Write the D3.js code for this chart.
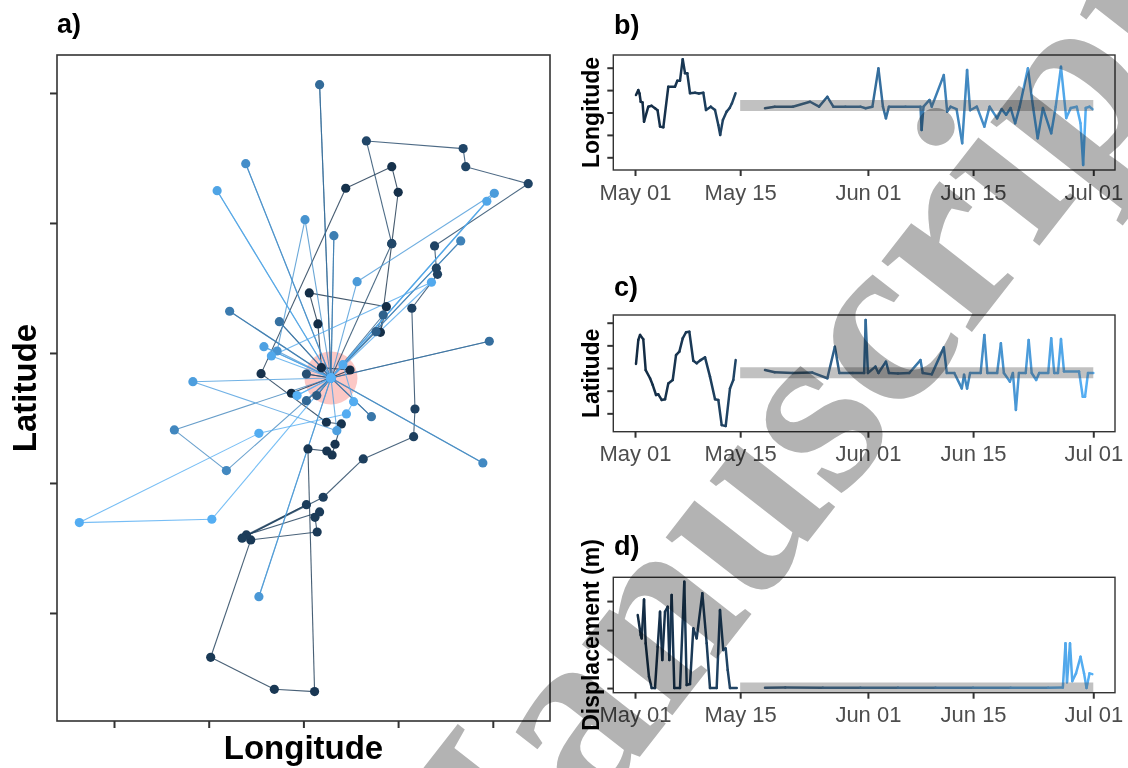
<!DOCTYPE html>
<html>
<head>
<meta charset="utf-8">
<script src="https://cdn.jsdelivr.net/npm/d3@7"></script>
<style>
  body { margin: 0; background: #fff; }
  svg { display: block; font-family: "Liberation Sans", Arial, sans-serif; }
</style>
</head>
<body>
<svg id="fig" width="1128" height="768"></svg>
<script>
// ---- data (days since May 01) ----
// movement track: [day, longitude, latitude] (arbitrary map units)
var track = [
  [0.00,187.3,169.0],[0.35,249.2,186.9],[0.70,219.0,188.7],[1.05,215.3,222.3],[1.40,206.2,246.2],
  [1.75,287.6,235.6],[2.10,281.3,215.9],[2.45,293.3,284.1],[2.80,300.1,323.6],[3.15,293.3,343.3],
  [3.50,244.7,326.7],[3.85,155.3,184.1],[4.20,224.3,146.7],[4.55,240.1,145.4],[4.90,233.4,129.8],
  [5.25,230.3,121.5],[5.60,224.7,124.6],[5.95,204.8,126.2],[6.30,211.8,-60.5],[6.65,169.3,-58.7],
  [7.00,102.1,-34.1],[7.35,144.4,56.2],[7.70,214.5,62.3],[8.05,212.2,73.6],[8.40,217.1,77.7],
  [8.75,139.8,60.0],[9.10,203.2,83.3],[9.45,135.3,57.5],[9.80,220.9,89.0],[10.15,263.2,118.5],
  [10.50,316.4,135.6],[10.85,317.8,156.9],[11.20,314.5,234.4],[11.55,341.6,260.5],[11.90,340.4,265.2],
  [12.25,338.5,282.3],[12.60,437.4,330.2],[12.95,371.4,343.3],[13.30,368.7,357.2],[13.65,266.5,363.1],
  [14.00,293.3,284.1],
  [14.6,229.1,180.8],[18.0,203.2,183.8],[20.0,229.1,180.8],[23.0,214.1,167.2],[24.0,229.1,180.8],
  [25.6,276.7,216.4],[26.6,284.3,229.2],[27.2,229.1,180.8],[29.0,203.2,163.3],[30.0,229.1,180.8],
  [30.7,217.1,406.4],[31.2,229.1,180.8],[32.4,396.3,209.0],[33.0,229.1,180.8],[33.4,174.6,224.1],
  [34.0,229.1,180.8],[36.0,271.8,151.0],[37.0,229.1,180.8],[38.0,122.1,232.1],[38.5,229.1,180.8],
  [39.2,232.2,290.2],[40.0,229.1,180.8],[41.1,366.1,286.2],[42.0,229.1,180.8],[43.3,63.7,140.8],
  [43.6,118.7,109.5],[44.0,229.1,180.8],[44.2,389.5,115.4],[45.0,229.1,180.8],[46.5,139.1,345.6],
  [47.0,229.1,180.8],[48.5,201.7,302.5],[49.0,172.2,201.5],[49.5,229.1,180.8],[50.7,153.0,12.5],
  [51.0,229.1,180.8],[51.5,256.7,254.8],[52.3,401.6,322.8],[52.8,229.1,180.8],[53.2,83.3,177.9],
  [53.6,235.3,140.2],[54.0,229.1,180.8],[54.5,158.3,204.8],[55.0,229.1,180.8],[55.4,108.9,324.8],
  [56.0,229.1,180.8],[56.7,393.7,316.7],[57.0,229.1,180.8],[57.4,166.2,197.7],[57.8,335.2,254.4],
  [58.2,229.1,180.8],[58.6,241.7,191.0],[58.9,253.0,162.5],[59.1,245.4,153.1],[59.3,153.0,138.2],
  [59.5,-36.6,69.5],[59.7,103.3,72.1],[60.0,229.1,180.8],[60.4,193.3,167.2],[61.0,229.1,180.8]
];
var home = [229.1, 180.8];
var homeRadius = 28;

// longitude through time: [day, value]
var lonSeries = [
  [0.13,3.78],[0.44,4.00],[0.60,3.85],[0.76,3.48],[1.00,3.45],[1.20,2.59],[1.77,3.26],[2.20,3.30],
  [2.66,3.19],[3.00,3.10],[3.33,2.37],[3.77,2.34],[4.43,4.15],[5.32,4.15],[5.63,4.42],[5.99,4.42],
  [6.35,5.38],[6.66,4.75],[6.96,4.75],[7.32,3.86],[7.99,3.88],[8.50,3.85],[9.09,3.88],[9.45,3.11],
  [10.08,3.26],[10.65,3.11],[11.09,2.44],[11.34,2.00],[11.70,2.67],[12.20,3.04],[12.60,3.20],
  [12.90,3.41],[13.38,3.86],
  [17.3,3.19],[18.6,3.26],[21.0,3.26],[23.3,3.48],[24.5,3.26],[25.6,3.70],[26.4,3.26],[28.0,3.26],
  [30.0,3.26],[30.7,3.19],[31.6,3.26],[32.4,4.97],[33.0,3.26],[33.4,2.74],[33.8,3.26],[36.0,3.26],
  [38.0,3.26],[38.15,2.22],[38.4,3.26],[39.2,3.56],[39.5,3.26],[41.1,4.67],[41.55,3.04],[42.0,3.26],
  [42.8,3.15],[43.55,1.63],[44.2,4.90],[44.6,3.10],[45.5,3.26],[46.5,2.37],[47.2,3.26],[48.2,2.74],
  [48.8,3.15],[49.4,2.90],[50.0,3.20],[50.6,2.52],[51.2,3.26],[52.3,4.97],[53.0,3.20],[53.6,1.85],
  [54.3,3.20],[55.4,2.07],[56.0,3.26],[56.7,5.04],[57.4,2.75],[58.0,3.20],[58.8,3.26],[59.3,2.52],
  [59.65,0.66],[60.0,3.20],[60.5,3.26],[60.9,3.15]
];
var lonHome = 3.31;

// latitude through time: [day, value]
var latSeries = [
  [0.13,3.18],[0.44,4.24],[0.67,4.46],[1.10,4.27],[1.42,2.91],[2.00,2.55],[2.36,2.25],[2.80,1.81],
  [3.10,1.84],[3.55,1.59],[4.00,1.62],[4.43,2.32],[5.02,2.47],[5.46,3.57],[5.90,3.72],[6.35,4.31],
  [6.79,4.58],[7.23,4.60],[7.76,3.32],[8.21,3.21],[8.74,3.35],[9.32,3.47],[9.98,2.62],[10.65,1.62],
  [11.09,1.59],[11.54,0.48],[12.07,0.44],[12.64,2.10],[13.08,2.47],[13.40,3.35],
  [17.3,2.91],[18.6,2.81],[21.0,2.78],[23.6,2.80],[25.6,2.55],[26.6,3.94],[27.2,2.78],[29.0,2.78],
  [30.5,2.78],[30.7,5.12],[31.0,2.78],[32.0,3.06],[32.4,2.78],[33.4,3.28],[33.8,2.78],[35.0,2.76],
  [36.5,2.78],[38.0,3.35],[38.3,2.78],[39.5,2.72],[41.1,3.91],[41.5,2.78],[42.5,2.78],[43.5,2.10],
  [43.8,2.70],[44.2,2.10],[44.6,2.78],[46.0,2.78],[46.5,4.46],[46.9,2.78],[48.2,2.78],[48.7,4.09],
  [49.1,2.78],[49.9,2.40],[50.3,2.78],[50.7,1.15],[51.1,2.78],[52.0,2.78],[52.4,4.24],[52.8,2.78],
  [53.4,2.47],[53.8,2.78],[55.0,2.78],[55.4,4.31],[55.8,2.78],[56.3,2.78],[56.7,4.28],[57.1,2.85],
  [59.1,2.85],[59.6,1.73],[59.9,1.73],[60.3,2.78],[61.0,2.78]
];
var latHome = 2.79;

// displacement (m) through time: [day, value]
var dispSeries = [
  [0.36,1259],[0.76,914],[0.89,857],[1.20,1529],[1.42,771],[1.86,195],[2.22,0],[2.66,0],
  [3.02,712],[3.33,1316],[3.63,483],[3.99,1316],[4.35,1402],[4.57,483],[4.88,1603],[5.23,0],
  [5.99,0],[6.56,1833],[6.88,52],[7.32,69],[7.76,1029],[8.21,857],[8.96,1633],[9.54,771],
  [9.98,0],[10.87,0],[11.31,1345],[11.75,655],[12.07,684],[12.34,310],[12.64,0],[13.54,0],
  [17.3,5],[20.0,10],[25.0,5],[30.0,5],[35.0,5],[40.0,5],[45.0,5],[50.0,5],[55.0,5],[56.95,10],
  [57.3,771],[57.5,100],[57.9,771],[58.2,120],[58.7,253],[59.3,540],[59.77,253],[60.1,0],
  [60.5,253],[60.87,240]
];
var dispHome = 0;

var mapTicks = [0, 100, 200, 300, 400];
var dateTicks = ["2017-05-01", "2017-05-15", "2017-06-01", "2017-06-15", "2017-07-01"];
var bandDays = [14, 61];
var gapDays = [13.6, 17.2];   // no fixes recorded in this window

// ---- helpers ----
var DAY0 = Date.UTC(2017, 4, 1);
function toDate(d) { return new Date(DAY0 + d * 864e5); }

var colour = d3.scaleLinear()
  .domain([0, 61])
  .range(["#132B43", "#56B1F7"])
  .interpolate(d3.interpolateLab);

var svg = d3.select("#fig");

function styleAxis(g) {
  g.select(".domain").remove();
  g.selectAll(".tick line").attr("stroke", "#333").attr("stroke-width", 2);
}

// ---- panel a: the track ----
var ax = d3.scaleLinear().domain([-60.2, 460.4]).range([57, 550]);
var ay = d3.scaleLinear().domain([-83.1, 429.2]).range([721, 55]);

var pa = svg.append("g").attr("class", "panel-a");

pa.append("circle")
  .attr("cx", ax(home[0]))
  .attr("cy", ay(home[1]))
  .attr("r", ax(homeRadius) - ax(0))
  .attr("fill", "#F8766D")
  .attr("fill-opacity", 0.4);

pa.selectAll("line.seg")
  .data(d3.pairs(track))
  .enter().append("line")
  .attr("class", "seg")
  .attr("x1", function(d) { return ax(d[0][1]); })
  .attr("y1", function(d) { return ay(d[0][2]); })
  .attr("x2", function(d) { return ax(d[1][1]); })
  .attr("y2", function(d) { return ay(d[1][2]); })
  .attr("stroke", function(d) { return colour(d[0][0]); })
  .attr("stroke-width", 1.1)
  .attr("stroke-opacity", 0.8);

pa.selectAll("circle.fix")
  .data(track)
  .enter().append("circle")
  .attr("class", "fix")
  .attr("cx", function(d) { return ax(d[1]); })
  .attr("cy", function(d) { return ay(d[2]); })
  .attr("r", 4.6)
  .attr("fill", function(d) { return colour(d[0]); });

pa.append("rect")
  .attr("x", 57).attr("y", 55)
  .attr("width", 550 - 57).attr("height", 721 - 55)
  .attr("fill", "none").attr("stroke", "#333").attr("stroke-width", 1.6);

pa.append("g")
  .attr("transform", "translate(0,721)")
  .call(d3.axisBottom(ax).tickValues(mapTicks).tickFormat("").tickSize(7))
  .call(styleAxis);
pa.append("g")
  .attr("transform", "translate(57,0)")
  .call(d3.axisLeft(ay).tickValues(mapTicks).tickFormat("").tickSize(7))
  .call(styleAxis);

pa.append("text")
  .attr("x", 57).attr("y", 33)
  .attr("font-size", 27).attr("font-weight", "bold")
  .text("a)");
pa.append("text")
  .attr("x", 303.5).attr("y", 759)
  .attr("text-anchor", "middle")
  .attr("font-size", 33).attr("font-weight", "bold")
  .text("Longitude");
pa.append("text")
  .attr("transform", "translate(35.7,388) rotate(-90)")
  .attr("text-anchor", "middle")
  .attr("font-size", 33).attr("font-weight", "bold")
  .text("Latitude");

// ---- panels b-d: time series ----
var xt = d3.scaleUtc()
  .domain([toDate(-2.89), toDate(63.89)])
  .range([613.3, 1115]);

var panels = [
  { title: "b)", label: "Longitude", series: lonSeries, home: lonHome,
    top: 55, bottom: 170, domain: [0.433, 5.567], ticks: [1, 2, 3, 4, 5], titleY: 33.5 },
  { title: "c)", label: "Latitude", series: latSeries, home: latHome,
    top: 315, bottom: 431.7, domain: [0.19, 5.34], ticks: [1, 2, 3, 4, 5], titleY: 296 },
  { title: "d)", label: "Displacement (m)", series: dispSeries, home: dispHome,
    top: 577.3, bottom: 692.7, domain: [-80, 1910], ticks: [0, 500, 1000, 1500], titleY: 554.5 }
];

panels.forEach(function(p, k) {
  var y = d3.scaleLinear().domain(p.domain).range([p.bottom, p.top]);
  var g = svg.append("g").attr("class", "panel-ts");

  g.append("clipPath").attr("id", "clip" + k)
    .append("rect")
    .attr("x", 613.3).attr("y", p.top)
    .attr("width", 1115 - 613.3).attr("height", p.bottom - p.top);

  var body = g.append("g").attr("clip-path", "url(#clip" + k + ")");

  // consecutive fixes, not bridging the gap in the record
  var segs = d3.pairs(p.series).filter(function(s) {
    return !(s[0][0] <= gapDays[0] && s[1][0] >= gapDays[1]);
  });
  body.selectAll("line")
    .data(segs)
    .enter().append("line")
    .attr("x1", function(s) { return xt(toDate(s[0][0])); })
    .attr("y1", function(s) { return y(s[0][1]); })
    .attr("x2", function(s) { return xt(toDate(s[1][0])); })
    .attr("y2", function(s) { return y(s[1][1]); })
    .attr("stroke", function(s) { return colour(s[0][0]); })
    .attr("stroke-width", 2.5)
    .attr("stroke-linecap", "round");

  // home level band
  body.append("line")
    .attr("x1", xt(toDate(bandDays[0])))
    .attr("x2", xt(toDate(bandDays[1])))
    .attr("y1", y(p.home)).attr("y2", y(p.home))
    .attr("stroke", "#4d4d4d")
    .attr("stroke-opacity", 0.35)
    .attr("stroke-width", 11);

  g.append("rect")
    .attr("x", 613.3).attr("y", p.top)
    .attr("width", 1115 - 613.3).attr("height", p.bottom - p.top)
    .attr("fill", "none").attr("stroke", "#333").attr("stroke-width", 1.4);

  g.append("g")
    .attr("transform", "translate(613.3,0)")
    .call(d3.axisLeft(y).tickValues(p.ticks).tickFormat("").tickSize(6))
    .call(styleAxis);

  var xa = g.append("g")
    .attr("transform", "translate(0," + p.bottom + ")")
    .call(d3.axisBottom(xt)
      .tickValues(dateTicks.map(function(s) { return new Date(s + "T00:00:00Z"); }))
      .tickFormat(d3.utcFormat("%b %d"))
      .tickSize(6).tickPadding(8))
    .call(styleAxis);
  xa.selectAll(".tick text")
    .attr("fill", "#4d4d4d")
    .attr("font-size", 22)
    .attr("font-family", "Liberation Sans, Arial, sans-serif");

  g.append("text")
    .attr("x", 614).attr("y", p.titleY)
    .attr("font-size", 27).attr("font-weight", "bold")
    .text(p.title);

  g.append("text")
    .attr("transform", "translate(598.5," + ((p.top + p.bottom) / 2) + ") rotate(-90)")
    .attr("text-anchor", "middle")
    .attr("font-size", 23).attr("font-weight", "bold")
    .text(p.label);
});

// ---- watermark ----
svg.append("text")
  .attr("transform", "translate(446,1005) rotate(-52)")
  .attr("font-family", "Liberation Serif, Times New Roman, serif")
  .attr("font-weight", "bold")
  .attr("font-size", 250)
  .attr("fill", "#b3b3b3")
  .style("mix-blend-mode", "multiply")
  .text("Manuscript");
</script>
</body>
</html>
